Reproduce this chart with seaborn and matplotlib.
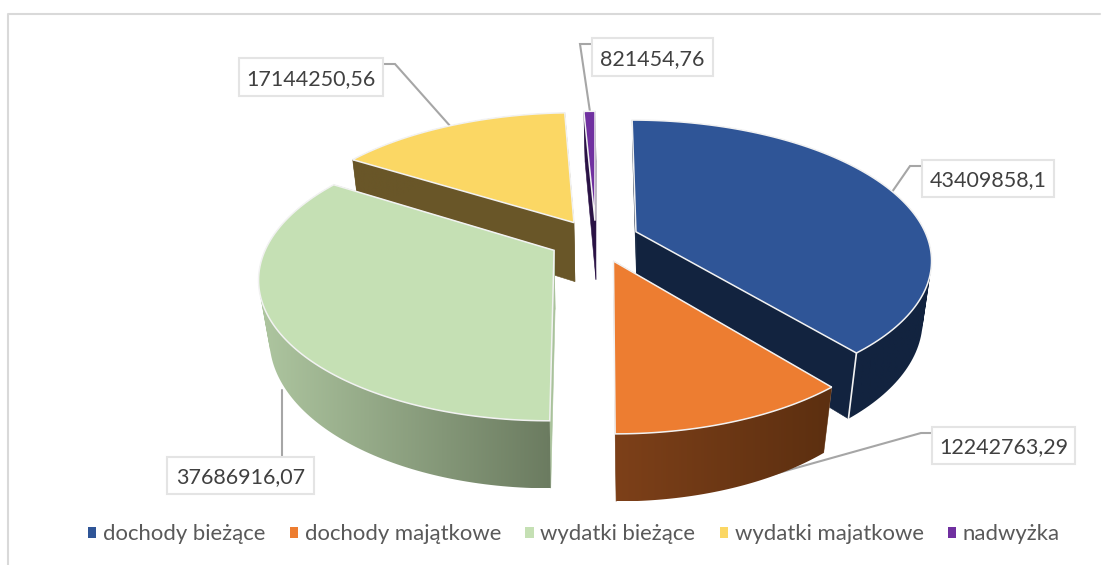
import numpy as np
import matplotlib
matplotlib.use('Agg')
import matplotlib.pyplot as plt
from matplotlib.patches import Patch, PathPatch
from matplotlib.path import Path
import seaborn as sns

# Chart data
categories = ['dochody bieżące', 'dochody majątkowe', 'wydatki bieżące', 'wydatki majatkowe', 'nadwyżka']
values = [43409858.1, 12242763.29, 37686916.07, 17144250.56, 821454.76]

# Colours: top face, outer wall at its left and right end, cut wall
top_colors = ['#2F5597', '#ED7D31', '#C5E0B4', '#FBD764', '#7030A0']
side_left = ['#12233F', '#7D4019', '#AEC6A0', '#695628', '#2A1245']
side_right = ['#12233F', '#5C2F10', '#6B7B60', '#695628', '#2A1245']
radial_colors = ['#12233F', '#9C7A62', '#A9C29B', '#695628', '#2A1245']

# Back to front
draw_order = [4, 3, 0, 2, 1]

# Label boxes (x0, y0, x1, y1), leader lines and slice nudges, in pixels
label_boxes = [(922, 160, 1054, 197), (932, 427, 1075, 464), (167, 457, 314, 494),
               (239, 58, 383, 96), (592, 38, 713, 76)]
leaders = [[(922, 166), (910, 166), (892, 192)],
           [(932, 433), (921, 433), (728, 487)],
           [(282, 457), (282, 390)],
           [(383, 64), (395, 64), (451, 127)],
           [(592, 44), (580, 44), (590, 112)]]
nudges = [(-2, -1), (3, 1), (-1, 0), (2, 1), (1, 2)]

sns.set_theme(style='white')
plt.rcParams['font.family'] = ['Lato', 'DejaVu Sans']

CX, CY = 595, 240
EXPLODE = 0.158
TOP = dict(rx=289, ry=135, k=0.196, cy=CY, cx=CX)
BOTTOM = dict(rx=280, ry=144, k=0.184, cy=CY + 59, cx=CX + 1)


def project(theta, mid, radius, plane):
    # circle point on a plane seen in perspective, slice pulled out along its middle angle
    xc = radius * np.sin(theta)
    yc = radius * np.cos(theta)
    w = 1 + plane['k'] * yc
    w_half = 1 + 0.5 * TOP['k'] * yc
    w_full = 1 + TOP['k'] * yc
    ox = EXPLODE * np.sin(mid)
    oy = EXPLODE * np.cos(mid)
    x = plane['cx'] + (plane['rx'] * xc / w) + TOP['rx'] * ox / w_half
    y = plane['cy'] - (plane['ry'] * yc / w) - TOP['ry'] * oy / w_full
    return x, y


def wall_path(tx, ty, bx, by):
    # one quad per step, all wound the same way so overlaps stay filled
    quads = []
    for n in range(len(tx) - 1):
        q = np.array([[tx[n], ty[n]], [tx[n + 1], ty[n + 1]], [bx[n + 1], by[n + 1]], [bx[n], by[n]], [tx[n], ty[n]]])
        area = np.sum(q[:-1, 0] * q[1:, 1] - q[1:, 0] * q[:-1, 1])
        if area < 0:
            q = q[::-1]
        quads.append(Path(q, closed=True))
    return Path.make_compound_path(*quads)


fig = plt.figure(figsize=(11.12, 5.65), dpi=100)
ax = fig.add_axes([0, 0, 1, 1])
ax.axis('off')

# Chart frame
ax.plot([8, 8, 1100], [565, 14, 14], color='#D9D9D9', lw=1.5, zorder=1)

total = sum(values)
edges = np.radians(np.concatenate([[0], np.cumsum(values) / total * 360]))
rim_color = '#F2F2F2'

z = 2
for i in draw_order:
    t0, t1 = edges[i], edges[i + 1]
    mid = (t0 + t1) / 2
    ts = np.linspace(t0, t1, 121)
    dx, dy = nudges[i]

    tx, ty = project(ts, mid, 1, TOP)
    bx, by = project(ts, mid, 1, BOTTOM)
    ax_top, ay_top = project(t0, mid, 0, TOP)
    ax_bot, ay_bot = project(t0, mid, 0, BOTTOM)
    tx, bx, ax_top, ax_bot = tx + dx, bx + dx, ax_top + dx, ax_bot + dx
    ty, by, ay_top, ay_bot = ty + dy, by + dy, ay_top + dy, ay_bot + dy

    # straight walls of the cut
    for j in (0, -1):
        ax.fill([ax_top, tx[j], bx[j], ax_bot], [ay_top, ty[j], by[j], ay_bot],
                color=radial_colors[i], lw=0.4, zorder=z)
    z += 1

    # outer wall with a left to right shade
    xs = np.r_[tx, bx]
    ys = np.r_[ty, by]
    cmap = sns.blend_palette([side_left[i], side_right[i]], as_cmap=True)
    im = ax.imshow(np.linspace(0, 1, 256)[None, :], cmap=cmap, aspect='auto', zorder=z,
                   extent=(xs.min(), xs.max(), ys.max(), ys.min()))
    im.set_clip_path(PathPatch(wall_path(tx, ty, bx, by), transform=ax.transData))
    z += 1

    # white edge where the wall turns
    if i == 0:
        ax.plot([tx[-1], bx[-1]], [ty[-1], by[-1]], color=rim_color, lw=1.2, zorder=z)

    # top face
    ax.fill(np.r_[ax_top, tx], np.r_[ay_top, ty], facecolor=top_colors[i],
            edgecolor=rim_color, lw=1.1, joinstyle='miter', zorder=z)
    z += 1

# Leader lines and data labels
for i in range(len(values)):
    xs, ys = zip(*leaders[i])
    ax.plot(xs, ys, color='#A6A6A6', lw=1.5, zorder=1.5, solid_joinstyle='miter')
    x0, y0, x1, y1 = label_boxes[i]
    ax.fill([x0, x1, x1, x0], [y0, y0, y1, y1], facecolor='white', edgecolor='#E4E4E4',
            lw=1.5, zorder=z)
    ax.text((x0 + x1) / 2, (y0 + y1) / 2, str(values[i]).replace('.', ','), ha='center',
            va='center_baseline', fontsize=15.5, color='#404040', zorder=z + 1)

ax.set_xlim(0, 1112)
ax.set_ylim(565, 0)

# Legend
handles = [Patch(facecolor=c, edgecolor='none', label=n) for c, n in zip(top_colors, categories)]
ax.legend(handles=handles, ncol=5, loc='center', bbox_to_anchor=(574, 534),
          bbox_transform=ax.transData, frameon=False, fontsize=15.9, labelcolor='#595959',
          handlelength=0.38, handleheight=0.4, handletextpad=0.3, columnspacing=1.1)

fig.savefig('out.png', dpi=100)
